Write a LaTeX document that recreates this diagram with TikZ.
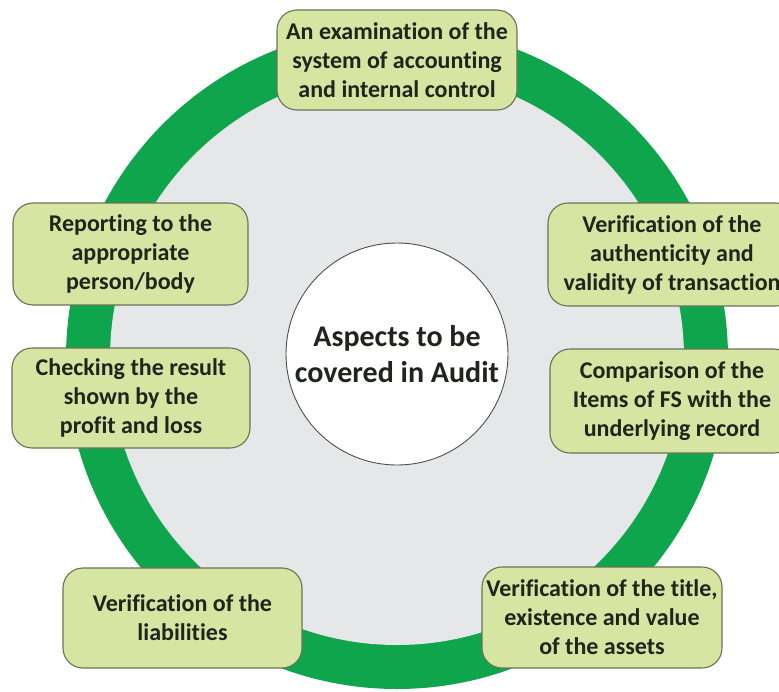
\documentclass[tikz,border=0pt]{standalone}
\usepackage{fontspec}
\setmainfont[Ligatures=NoCommon]{Carlito}
\definecolor{ringgreen}{RGB}{14,165,76}
\definecolor{innergray}{RGB}{230,231,233}
\definecolor{boxfill}{RGB}{214,229,162}
\definecolor{boxline}{RGB}{105,115,88}
\definecolor{textdark}{RGB}{32,36,28}
\begin{document}
\begin{tikzpicture}[x=1pt,y=-1pt,
  aspectbox/.style={rectangle, rounded corners=20pt, draw=boxline, line width=1.1pt,
    fill=boxfill, align=center, text=textdark, inner sep=0pt,
    font=\bfseries\fontsize{24}{29}\selectfont},
  hubtext/.style={align=center, text=textdark, font=\bfseries\fontsize{30}{36}\selectfont}]
\clip (0,0) rectangle (779,691);
\fill[white] (0,0) rectangle (779,691);
\fill[ringgreen] (397,358) circle (331pt);
\fill[innergray] (397,358) circle (287pt);
\node[circle, draw=textdark!80, line width=0.9pt, fill=white, minimum size=222pt, inner sep=0pt] (hub) at (397,354) {};
\node[hubtext] (hubt) at (hub.center) {Aspects to be\\covered in Audit};
\node[aspectbox, minimum width=240pt, minimum height=100pt] (b1) at (397,60) {An examination of the\\system of accounting\\and internal control};
\node[aspectbox, minimum width=235pt, minimum height=102pt] (b2) at (130.5,254) {Reporting to the\\appropriate\\person/body};
\node[aspectbox, minimum width=248pt, minimum height=103pt] (b3) at (672,254.5) {Verification of the\\authenticity and\\validity of transaction};
\node[aspectbox, minimum width=238pt, minimum height=100pt] (b4) at (131,398) {Checking the result\\shown by the\\profit and loss};
\node[aspectbox, minimum width=244pt, minimum height=104pt] (b5) at (672,401) {Comparison of the\\Items of FS with the\\underlying record};
\node[aspectbox, minimum width=239pt, minimum height=100pt] (b6) at (182.5,618) {Verification of the\\liabilities};
\node[aspectbox, minimum width=240pt, minimum height=101pt] (b7) at (602,617.5) {Verification of the title,\\existence and value\\of the assets};
\end{tikzpicture}
\end{document}
